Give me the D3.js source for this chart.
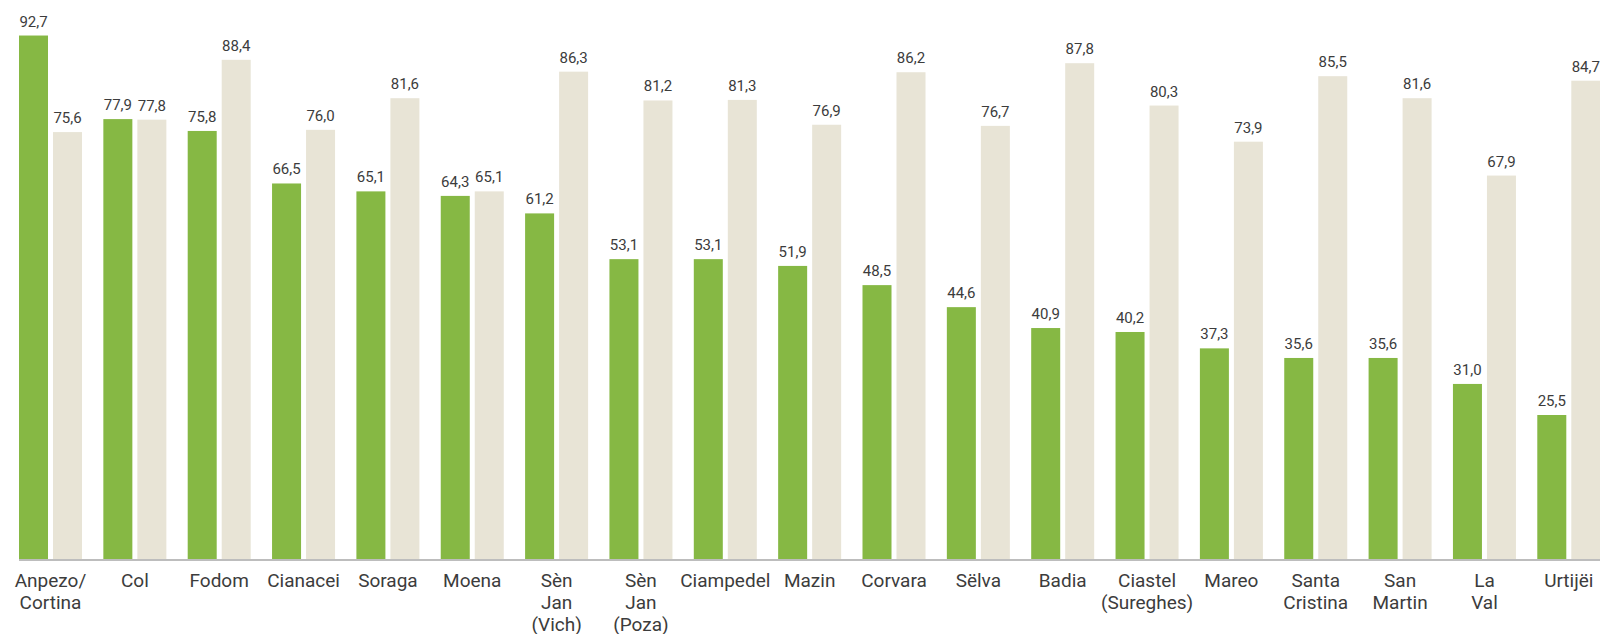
<!DOCTYPE html>
<html>
<head>
<meta charset="utf-8">
<script src="https://cdn.jsdelivr.net/npm/d3@7"></script>
<style>
  html, body { margin: 0; padding: 0; background: #fff; }
  svg { display: block; }
</style>
</head>
<body>
<svg id="chart" width="1600" height="634"></svg>
<script>
const categories = ["Anpezo/\nCortina", "Col", "Fodom", "Cianacei", "Soraga", "Moena", "Sèn\nJan\n(Vich)", "Sèn\nJan\n(Poza)", "Ciampedel", "Mazin", "Corvara", "Sëlva", "Badia", "Ciastel\n(Sureghes)", "Mareo", "Santa\nCristina", "San\nMartin", "La\nVal", "Urtijëi"];
const seriesGreen = [92.7, 77.9, 75.8, 66.5, 65.1, 64.3, 61.2, 53.1, 53.1, 51.9, 48.5, 44.6, 40.9, 40.2, 37.3, 35.6, 35.6, 31.0, 25.5];
const seriesBeige = [75.6, 77.8, 88.4, 76.0, 81.6, 65.1, 86.3, 81.2, 81.3, 76.9, 86.2, 76.7, 87.8, 80.3, 73.9, 85.5, 81.6, 67.9, 84.7];
const seriesKeys = ["green", "beige"];
const colors = {green: "#86b844", beige: "#e8e4d6"};

const svg = d3.select("#chart");
const baseY = 559;
const x0 = d3.scaleBand().domain(d3.range(categories.length))
  .range([19, 19 + 19 * 84.35 - 21.35]).paddingInner(0.253).paddingOuter(0);
const x1 = d3.scaleBand().domain(seriesKeys).range([0, x0.bandwidth()]).paddingInner(0.147).paddingOuter(0);
const y = d3.scaleLinear().domain([0, 100]).range([baseY, baseY - 564.7]);

const data = categories.map((c, i) => ({c, i, green: seriesGreen[i], beige: seriesBeige[i]}));
const fmt = v => d3.format(".1f")(v).replace(".", ",");

const g = svg.append("g");
const groups = g.selectAll("g.grp").data(data).join("g")
  .attr("transform", d => `translate(${x0(d.i)},0)`);

groups.selectAll("rect").data(d => seriesKeys.map(k => ({k, v: d[k]}))).join("rect")
  .attr("x", d => x1(d.k))
  .attr("width", x1.bandwidth())
  .attr("y", d => y(d.v))
  .attr("height", d => y(0) - y(d.v))
  .attr("fill", d => colors[d.k]);

groups.selectAll("text.val").data(d => seriesKeys.map(k => ({k, v: d[k]}))).join("text")
  .attr("class", "val")
  .attr("x", d => x1(d.k) + x1.bandwidth() / 2)
  .attr("y", d => y(d.v) - 9)
  .attr("text-anchor", "middle")
  .style("font-family", "Roboto, sans-serif")
  .style("font-size", "15px")
  .style("fill", "#3c3c3c")
  .text(d => fmt(d.v));

// axis line
svg.append("line")
  .attr("x1", 19).attr("x2", 1600)
  .attr("y1", baseY + 1).attr("y2", baseY + 1)
  .attr("stroke", "#bdbdbd").attr("stroke-width", 2);

// category labels
const labels = svg.append("g").selectAll("text").data(data).join("text")
  .attr("x", d => x0(d.i) + x0.bandwidth() / 2)
  .attr("y", 587)
  .attr("text-anchor", "middle")
  .style("font-family", "Roboto, sans-serif")
  .style("font-size", "19px")
  .style("fill", "#3c3c3c");
labels.selectAll("tspan").data(d => d.c.split("\n")).join("tspan")
  .attr("x", function() { return d3.select(this.parentNode).attr("x"); })
  .attr("dy", (d, i) => i === 0 ? 0 : 22)
  .text(d => d);
</script>
</body>
</html>
